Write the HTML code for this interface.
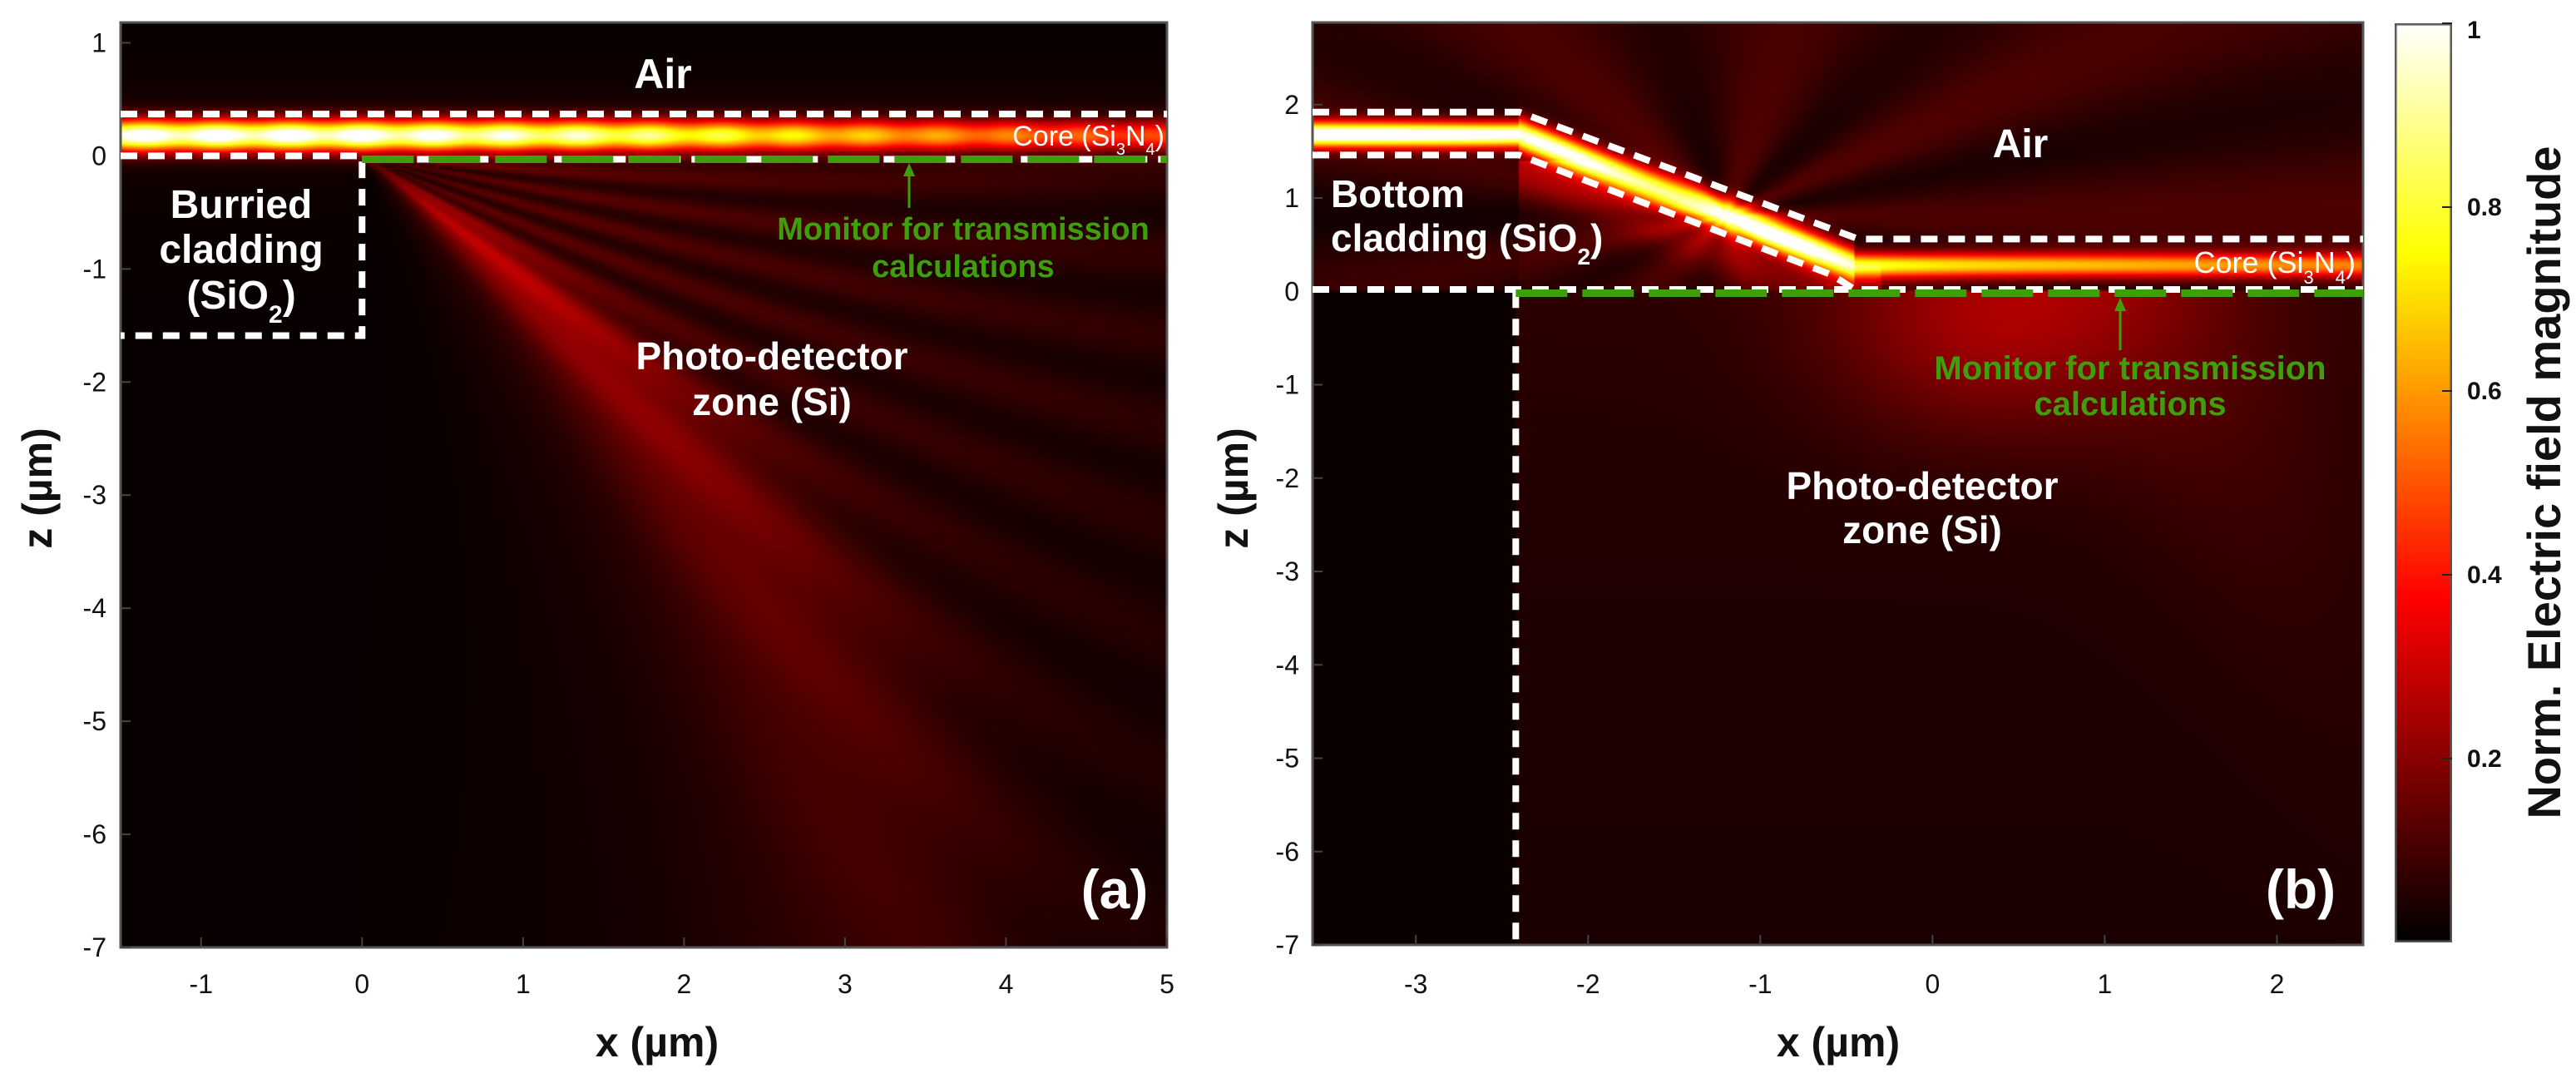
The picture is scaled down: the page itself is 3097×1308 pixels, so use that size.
<!DOCTYPE html>
<html><head><meta charset="utf-8">
<style>
html,body{margin:0;padding:0;background:#fff;width:3097px;height:1308px;overflow:hidden}
canvas{position:absolute}
svg{position:absolute;left:0;top:0}
text{font-family:"Liberation Sans",sans-serif}
</style></head>
<body>
<canvas id="cA" width="629" height="556" style="left:145px;top:27px;width:1258px;height:1112px"></canvas>
<canvas id="cB" width="632" height="554" style="left:1578px;top:27px;width:1263px;height:1109px"></canvas>
<canvas id="cbar" width="69" height="1105" style="left:2879px;top:28px;width:69px;height:1105px"></canvas>
<svg id="ov" width="3097" height="1308"></svg>
<script>
// ---- chart data ----
const xTicksA=[-1,0,1,2,3,4,5];
const zTicksA=[1,0,-1,-2,-3,-4,-5,-6,-7];
const xTicksB=[-3,-2,-1,0,1,2];
const zTicksB=[2,1,0,-1,-2,-3,-4,-5,-6,-7];
const cbarTicks=[0.2,0.4,0.6,0.8,1];
const xRangeA=[-1.5,5], zRangeA=[-7,1.18];
const xRangeB=[-3.6,2.5], zRangeB=[-7,2.88];

// axis functions
const A={x0:145,x1:1403,y0:1139,y1:27};
const B={x0:1578,x1:2841,y0:1136,y1:27};
function sx(P,r,v){return P.x0+(v-r[0])/(r[1]-r[0])*(P.x1-P.x0);}
function sz(P,r,v){return P.y0-(v-r[0])/(r[1]-r[0])*(P.y0-P.y1);}
const xa=v=>sx(A,xRangeA,v), za=v=>sz(A,zRangeA,v);
const xb=v=>sx(B,xRangeB,v), zb=v=>sz(B,zRangeB,v);

function hot(v){v=Math.max(0,Math.min(1,v));
 const r=Math.min(1,v/0.375),g=Math.max(0,Math.min(1,(v-0.375)/0.375)),b=Math.max(0,(v-0.75)/0.25);
 return [r*255,g*255,b*255];}

function fA(x,z){
 let v=0.012;
 let amp=x<0?1.0:(x<1.5?1.0-0.08*x:0.88*Math.exp(-(x-1.5)*0.2));
 amp*= (1+0.07*Math.cos(x*14));
 v+=amp*Math.exp(-Math.pow((z-0.18)/0.14,2));
 if(z<0&&x>0){
  const d=-z,r=Math.hypot(x,d),t=Math.atan2(d,x);
  const tb=0.78+0.045*r;
  const rise=1-Math.exp(-r*2.5);
  const main=0.27*Math.exp(-r*0.2)*Math.exp(-Math.pow((t-tb)/0.14,2));
  const edge=1/(1+Math.exp((t-tb)/0.06));
  const fan=0.16*Math.exp(-r*0.2)*edge*(0.4+0.6*Math.pow(Math.cos(t*22+r*0.5),2));
  v+=(main+fan)*rise;
  v+=0.04*Math.exp(-Math.pow((t-tb-0.2)/0.2,2))*Math.exp(-r*0.15);
 }
 if(z<0&&x<=0) v+=0.02*Math.exp(z*3);
 if(z>0.4) v+=0.03*Math.exp(-(z-0.4)*4);
 return v;
}
function centerB(x){
 if(x<-2.4) return 1.68;
 if(x<-0.45) return 1.68+(x+2.4)*(0.28-1.68)/1.95;
 return 0.28;
}
function fB(x,z){
 let v;
 if(z<0){
  v = x<-2.42?0.015:0.035;
  if(x>-2.42){
   v+=0.17*Math.exp(-Math.pow((z+0.3)/1.2,2))*Math.exp(-Math.pow((x-0.3)/0.9,2));
   const dx=x-(1.2-(z)*0.25); v+=0.09*Math.exp(-Math.pow(dx/0.8,2))*Math.exp(z*0.4);
   v+=0.03*Math.exp(z*0.3);
  }
 } else {
  v=0.08;
  if(x<-2.4&&z<1.5) v=0.06;
  const ang=Math.atan2(z-0.8,x+1.2);
  v+=0.04*Math.cos(ang*9)*Math.exp(-Math.abs(z-1.5)*0.3);
  if(z<1.4&&x>-2.4&&x<-0.3&&z<centerB(x)) v+=0.14*Math.exp(-Math.pow((z-centerB(x)+0.35)/0.3,2));
 }
 const c=centerB(x);
 let amp=x<-2.4?1.0:(x<-0.45?0.9+0.08*Math.sin(x*5):0.72*Math.exp(-(x+0.45)*0.14));
 const sig=(x>-2.4&&x<-0.45)?0.17:0.13;
 v+=amp*Math.exp(-Math.pow((z-c)/sig,2));
 return Math.max(0,v);
}
function paint(id,f,xr,zr){
 const c=document.getElementById(id),ctx=c.getContext('2d');
 const W=c.width,H=c.height,img=ctx.createImageData(W,H);
 for(let j=0;j<H;j++){const z=zr[1]-(j+0.5)/H*(zr[1]-zr[0]);
  for(let i=0;i<W;i++){const x=xr[0]+(i+0.5)/W*(xr[1]-xr[0]);
   const col=hot(f(x,z)),k=(j*W+i)*4;img.data[k]=col[0];img.data[k+1]=col[1];img.data[k+2]=col[2];img.data[k+3]=255;}}
 ctx.putImageData(img,0,0);
}
paint('cA',fA,xRangeA,zRangeA);
paint('cB',fB,xRangeB,zRangeB);
(function(){const c=document.getElementById('cbar'),ctx=c.getContext('2d');
 for(let j=0;j<c.height;j++){const col=hot(1-j/c.height);ctx.fillStyle=`rgb(${col[0]|0},${col[1]|0},${col[2]|0})`;ctx.fillRect(0,j,c.width,1);}
 ctx.strokeStyle='#555';ctx.lineWidth=3;ctx.strokeRect(1,1,c.width-2,c.height-2);})();

const NS='http://www.w3.org/2000/svg',svg=document.getElementById('ov');
function el(tag,attrs,txt){const e=document.createElementNS(NS,tag);for(const k in attrs)e.setAttribute(k,attrs[k]);if(txt!==undefined)e.textContent=txt;svg.appendChild(e);return e;}

let e;
e=el('rect',{x:A.x0,y:A.y1,width:A.x1-A.x0,height:A.y0-A.y1,fill:'none',stroke:'#555','stroke-width':3});


e=el('rect',{x:B.x0,y:B.y1,width:B.x1-B.x0,height:B.y0-B.y1,fill:'none',stroke:'#555','stroke-width':3});



xTicksA.forEach(v=>{const X=xa(v);
 el('line',{x1:X,x2:X,y1:A.y0,y2:A.y0-12,stroke:'#444','stroke-width':2});
 e=el('text',{x:X,y:1194,'font-size':32,'text-anchor':'middle',fill:'#111'},String(v));
 
 });
zTicksA.forEach(v=>{const Y=za(v);
 el('line',{x1:A.x0,x2:A.x0+12,y1:Y,y2:Y,stroke:'#444','stroke-width':2});
 e=el('text',{x:128,y:Y+11,'font-size':32,'text-anchor':'end',fill:'#111'},String(v));
 
 });
xTicksB.forEach(v=>{const X=xb(v);
 el('line',{x1:X,x2:X,y1:B.y0,y2:B.y0-12,stroke:'#444','stroke-width':2});
 e=el('text',{x:X,y:1194,'font-size':32,'text-anchor':'middle',fill:'#111'},String(v));
 
 });
zTicksB.forEach(v=>{const Y=zb(v);
 el('line',{x1:B.x0,x2:B.x0+12,y1:Y,y2:Y,stroke:'#444','stroke-width':2});
 e=el('text',{x:1562,y:Y+11,'font-size':32,'text-anchor':'end',fill:'#111'},String(v));
 
 });
const cbY=v=>1133-v*1105;
cbarTicks.forEach(v=>{const Y=cbY(v);
 el('line',{x1:2936,x2:2948,y1:Y,y2:Y,stroke:'#222','stroke-width':2});
 e=el('text',{x:2966,y:(v===1?Y+18:Y+10),'font-size':30,'font-weight':'bold',fill:'#111','font-family':'Liberation Mono,monospace'},String(v));
 
 });

e=el('text',{x:790,y:1270,'font-size':50,'font-weight':'bold','text-anchor':'middle',fill:'#111'},'x (µm)');


e=el('text',{x:2210,y:1270,'font-size':50,'font-weight':'bold','text-anchor':'middle',fill:'#111'},'x (µm)');


e=el('text',{x:0,y:0,'font-size':50,'font-weight':'bold','text-anchor':'middle',fill:'#111',transform:'translate(62,587) rotate(-90)'},'z (µm)');


e=el('text',{x:0,y:0,'font-size':50,'font-weight':'bold','text-anchor':'middle',fill:'#111',transform:'translate(1500,587) rotate(-90)'},'z (µm)');


e=el('text',{x:0,y:0,'font-size':56,'font-weight':'bold','text-anchor':'middle',fill:'#111',transform:'translate(3078,580) rotate(-90)'},'Norm. Electric field magnitude');



const wd={stroke:'#fff','stroke-width':8,'stroke-dasharray':'20 13',fill:'none'};
const gd={stroke:'#3f9e0c','stroke-width':9,'stroke-dasharray':'62 18',fill:'none'};
function pl(pts,st,name){e=el('polyline',Object.assign({points:pts.map(p=>p.join(',')).join(' ')},st));
 
 }
pl([[xa(-1.5),za(0.37)],[xa(5),za(0.37)]],wd,'core-top-outline-a');
pl([[xa(-1.5),za(0.0)],[xa(0),za(0.0)],[xa(0),za(-1.59)],[xa(-1.5),za(-1.59)]],wd,'cladding-outline-a');
pl([[xa(0),za(-0.03)],[xa(5),za(-0.03)]],wd,'core-bottom-outline-a');
pl([[xa(0),za(-0.03)],[xa(5),za(-0.03)]],gd,'monitor-line-a');
pl([[xb(-3.6),zb(1.92)],[xb(-2.4),zb(1.92)],[xb(-0.43),zb(0.56)],[xb(2.5),zb(0.56)]],wd,'core-top-outline-b');
pl([[xb(-3.6),zb(1.46)],[xb(-2.4),zb(1.46)],[xb(-0.59),zb(0.18)],[xb(-0.45),zb(0.02)]],wd,'core-bottom-outline-b');
pl([[xb(-3.6),zb(0.02)],[xb(2.5),zb(0.02)]],wd,'substrate-outline-b');
pl([[xb(-2.42),zb(0)],[xb(-2.42),zb(-7)]],wd,'detector-edge-b');
pl([[xb(-2.42),zb(-0.02)],[xb(2.5),zb(-0.02)]],gd,'monitor-line-b');

function arrow(X,y1,y2,name){
 e=el('line',{x1:X,x2:X,y1:y1,y2:y2+12,stroke:'#3f9e0c','stroke-width':3});
 
 
 el('polygon',{points:`${X-7},${y2+16} ${X+7},${y2+16} ${X},${y2}`,fill:'#3f9e0c'});}
arrow(1093,250,196,'monitor-arrow-a');
arrow(2549,421,358,'monitor-arrow-b');

function txt(x,y,s,size,fill,anchor,name,weight){
 e=el('text',{x:x,y:y,'font-size':size,'text-anchor':anchor||'middle',fill:fill,'font-weight':weight||'bold'});
 e.innerHTML=s;
 
 }
const sub=(c,s)=>`<tspan baseline-shift="sub" font-size="${s}">${c}</tspan>`;
txt(797,106,'Air',50,'#fff','middle','air-label-a');
txt(1400,175,'Core (Si'+sub('3',20)+'N'+sub('4',20)+')',34,'#fff','end','core-label-a','normal');
txt(1158,288,'Monitor for transmission',38,'#3f9e0c','middle','monitor-label-a-1');
txt(1158,333,'calculations',38,'#3f9e0c','middle','monitor-label-a-2');
txt(290,262,'Burried',48,'#fff','middle','cladding-label-a-1');
txt(290,316,'cladding',48,'#fff','middle','cladding-label-a-2');
txt(290,371,'(SiO'+sub('2',30)+')',48,'#fff','middle','cladding-label-a-3');
txt(928,444,'Photo-detector',46,'#fff','middle','detector-label-a-1');
txt(928,499,'zone (Si)',46,'#fff','middle','detector-label-a-2');
txt(1340,1092,'(a)',66,'#fff','middle','panel-label-a');
txt(2429,189,'Air',48,'#fff','middle','air-label-b');
txt(1600,249,'Bottom',46,'#fff','start','cladding-label-b-1');
txt(1600,302,'cladding (SiO'+sub('2',28)+')',46,'#fff','start','cladding-label-b-2');
txt(2832,328,'Core (Si'+sub('3',22)+'N'+sub('4',22)+')',36,'#fff','end','core-label-b','normal');
txt(2561,456,'Monitor for transmission',40,'#3f9e0c','middle','monitor-label-b-1');
txt(2561,499,'calculations',40,'#3f9e0c','middle','monitor-label-b-2');
txt(2311,600,'Photo-detector',46,'#fff','middle','detector-label-b-1');
txt(2311,653,'zone (Si)',46,'#fff','middle','detector-label-b-2');
txt(2766,1092,'(b)',66,'#fff','middle','panel-label-b');
</script>
</body></html>
